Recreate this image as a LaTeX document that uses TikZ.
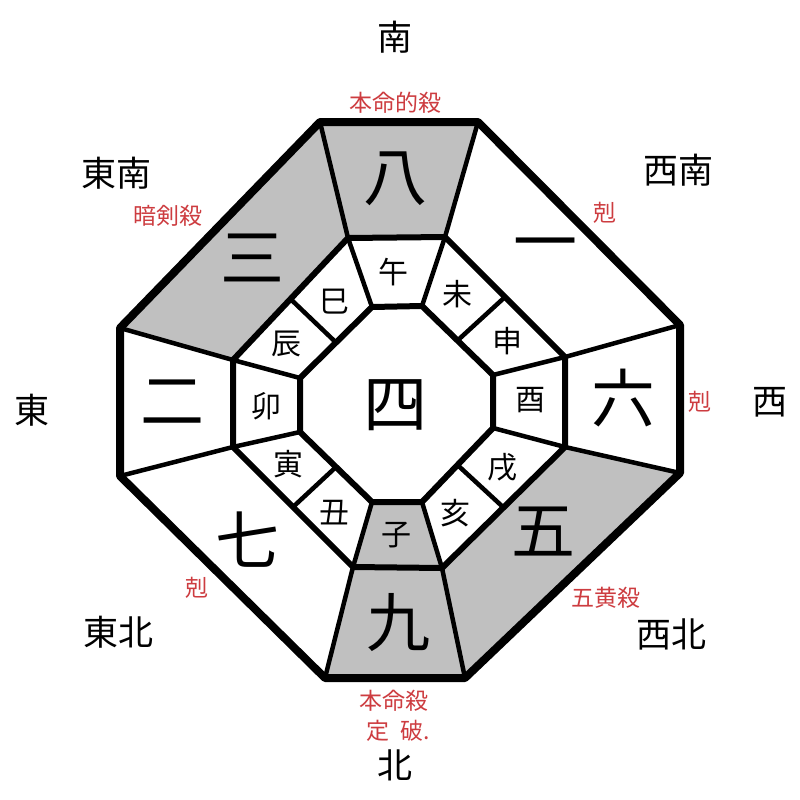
\documentclass[tikz,border=0pt]{standalone}
\usepackage{fontspec}
\usetikzlibrary{calc}
\newfontfamily\cjk{Noto Sans CJK JP}
\definecolor{redc}{RGB}{205,60,64}
\definecolor{grayc}{RGB}{192,192,192}
\tikzset{
  dirlab/.style={font=\cjk\fontsize{35}{35}\selectfont, inner sep=0pt},
  numlab/.style={font=\cjk\fontsize{64}{64}\selectfont, inner sep=0pt},
  brlab/.style={font=\cjk\fontsize{30}{30}\selectfont, inner sep=0pt},
  redlab/.style={text=redc, font=\cjk\fontsize{23}{23}\selectfont, inner sep=0pt},
  cellfill/.style={fill=grayc, draw=none},
  outerline/.style={line width=8pt, line join=round},
  midline/.style={line width=6pt, line join=round},
  radline/.style={line width=4.5pt},
}
\begin{document}
\begin{tikzpicture}[x=1pt,y=-1pt]
\useasboundingbox (0,0) rectangle (800,800);
\fill[white] (0,0) rectangle (800,800);
% outer octagon
\coordinate (O1) at (320,122); \coordinate (O2) at (478,122);
\coordinate (O3) at (680,325); \coordinate (O4) at (680,473);
\coordinate (O5) at (465,678); \coordinate (O6) at (325,678);
\coordinate (O7) at (120,476); \coordinate (O8) at (120,328);
% middle octagon
\coordinate (M1) at (348,238); \coordinate (M2) at (445,237);
\coordinate (M3) at (565,357); \coordinate (M4) at (565,447);
\coordinate (M5) at (442,568); \coordinate (M6) at (353,567);
\coordinate (M7) at (233,447); \coordinate (M8) at (233,360);
% inner octagon
\coordinate (I1) at (372,307); \coordinate (I2) at (422,306);
\coordinate (I3) at (493,375); \coordinate (I4) at (493,428);
\coordinate (I5) at (422,502); \coordinate (I6) at (372,502);
\coordinate (I7) at (300,432); \coordinate (I8) at (300,378);
% gray cells
\fill[cellfill] (O1) -- (O2) -- (M2) -- (M1) -- cycle;
\fill[cellfill] (O8) -- (O1) -- (M1) -- (M8) -- cycle;
\fill[cellfill] (O6) -- (O5) -- (M5) -- (M6) -- cycle;
\fill[cellfill] (O4) -- (O5) -- (M5) -- (M4) -- cycle;
\fill[cellfill] (M6) -- (M5) -- (I5) -- (I6) -- cycle;
% outer radial lines
\draw[radline] (M1) -- (O1); \draw[radline] (M2) -- (O2);
\draw[radline] (M3) -- (O3); \draw[radline] (M4) -- (O4);
\draw[radline] (M5) -- (O5); \draw[radline] (M6) -- (O6);
\draw[radline] (M7) -- (O7); \draw[radline] (M8) -- (O8);
% inner radial lines
\draw[radline] (I1) -- (M1); \draw[radline] (I2) -- (M2);
\draw[radline] (I3) -- (M3); \draw[radline] (I4) -- (M4);
\draw[radline] (I5) -- (M5); \draw[radline] (I6) -- (M6);
\draw[radline] (I7) -- (M7); \draw[radline] (I8) -- (M8);
\draw[radline] ($(I2)!0.5!(I3)$) -- ($(M2)!0.5!(M3)$);
\draw[radline] ($(I4)!0.5!(I5)$) -- ($(M4)!0.5!(M5)$);
\draw[radline] ($(I6)!0.5!(I7)$) -- ($(M6)!0.5!(M7)$);
\draw[radline] ($(I8)!0.5!(I1)$) -- ($(M8)!0.5!(M1)$);
% octagons
\draw[midline] (M1) -- (M2) -- (M3) -- (M4) -- (M5) -- (M6) -- (M7) -- (M8) -- cycle;
\draw[midline] (I1) -- (I2) -- (I3) -- (I4) -- (I5) -- (I6) -- (I7) -- (I8) -- cycle;
\draw[outerline] (O1) -- (O2) -- (O3) -- (O4) -- (O5) -- (O6) -- (O7) -- (O8) -- cycle;
% numbers
\node[numlab] (n8) at (395,179) {八};
\node[numlab] (n1) at (545,252) {一};
\node[numlab] (n6) at (623,398) {六};
\node[numlab] (n5) at (543,532) {五};
\node[numlab] (n9) at (398,623) {九};
\node[numlab] (n7) at (247,540) {七};
\node[numlab] (n2) at (172,402) {二};
\node[numlab] (n3) at (252,258) {三};
\node[numlab] (n4) at (395,405) {四};
% branches
\node[brlab] (bwu) at (393,272) {午};
\node[brlab] (bwei) at (457,294) {未};
\node[brlab] (bshen) at (507,341) {申};
\node[brlab] (byou) at (530,400) {酉};
\node[brlab] (bxu) at (502,467) {戌};
\node[brlab] (bhai) at (455,513) {亥};
\node[brlab] (bzi) at (396,535) {子};
\node[brlab] (bchou) at (334,513) {丑};
\node[brlab] (byin) at (288,464) {寅};
\node[brlab] (bmao) at (266,406) {卯};
\node[brlab] (bchen) at (286,344) {辰};
\node[brlab] (bsi) at (334,302) {巳};
% directions
\node[dirlab] (dS) at (395,37) {南};
\node[dirlab] (dSE) at (116,173) {東南};
\node[dirlab] (dSW) at (678,170) {西南};
\node[dirlab] (dE) at (32,410) {東};
\node[dirlab] (dW) at (770,402) {西};
\node[dirlab] (dNE) at (118,632) {東北};
\node[dirlab] (dNW) at (671,634) {西北};
\node[dirlab] (dN) at (395,765) {北};
% red labels
\node[redlab] (r1) at (395,103) {本命的殺};
\node[redlab] (r2) at (168,216) {暗剣殺};
\node[redlab] (r3) at (605,213) {剋};
\node[redlab] (r4) at (700,402) {剋};
\node[redlab] (r5) at (197,588) {剋};
\node[redlab] (r6) at (606,598) {五黄殺};
\node[redlab] (r7) at (394,701) {本命殺};
\node[redlab] (r8) at (398,731) {定\hspace{0.5em}破.};
\end{tikzpicture}
\end{document}
